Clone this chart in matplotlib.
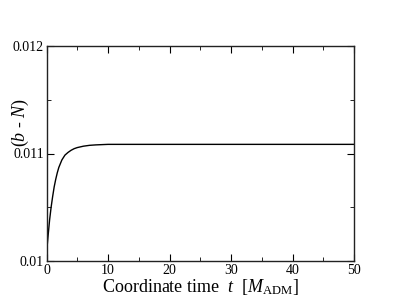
import matplotlib
matplotlib.use("Agg")
import matplotlib.pyplot as plt
from matplotlib.ticker import MultipleLocator

plt.rcParams["font.family"] = "Liberation Serif"
plt.rcParams["mathtext.fontset"] = "custom"
plt.rcParams["mathtext.rm"] = "Liberation Serif"
plt.rcParams["mathtext.it"] = "Liberation Serif:italic"

# values
t = [0, 0.25, 0.5, 0.75, 1.0, 1.25, 1.5, 1.75, 2.0, 2.5, 3.0, 3.5, 4.0, 4.5, 5.0, 6.0, 7.0, 8.0,
     10.0, 20.0, 30.0, 40.0, 50.0]
bN = [0.01007, 0.01023, 0.01038, 0.0105, 0.0106, 0.01069, 0.01076, 0.01082, 0.01087, 0.01094,
      0.010985, 0.01101, 0.01103, 0.011045, 0.011055, 0.011068, 0.011076, 0.01108,
      0.011085, 0.011085, 0.011085, 0.011085, 0.011085]

fig = plt.figure(figsize=(3.99, 3.08), dpi=100)
ax = fig.add_axes([46.5/399, 1-261/308, 307.5/399, 215/308])
ax.plot(t, bN, color="black", lw=1.0)

ax.set_xlim(0, 50)
ax.set_ylim(0.01, 0.012)
ax.xaxis.set_major_locator(MultipleLocator(10))
ax.xaxis.set_minor_locator(MultipleLocator(5))
ax.yaxis.set_minor_locator(MultipleLocator(0.0005))
ax.set_yticks([0.01, 0.011, 0.012])
ax.set_yticklabels(["0.01", "0.011", "0.012"])
ax.tick_params(which="both", direction="in", top=True, right=True, labelsize=10, pad=2)
ax.tick_params(which="major", length=5)
ax.tick_params(which="minor", length=3)
for s in ax.spines.values():
    s.set_linewidth(1.0)
    s.set_color("#222222")

ax.set_xlabel(r"Coordinate time  $t$  [$M_{\mathrm{ADM}}$]", fontsize=13, labelpad=0)
fig.text(20/399, 1-122/308, r"$(b$ - $N)$", fontsize=13, rotation=90, ha="center", va="center")

fig.savefig("out.png", dpi=100)
